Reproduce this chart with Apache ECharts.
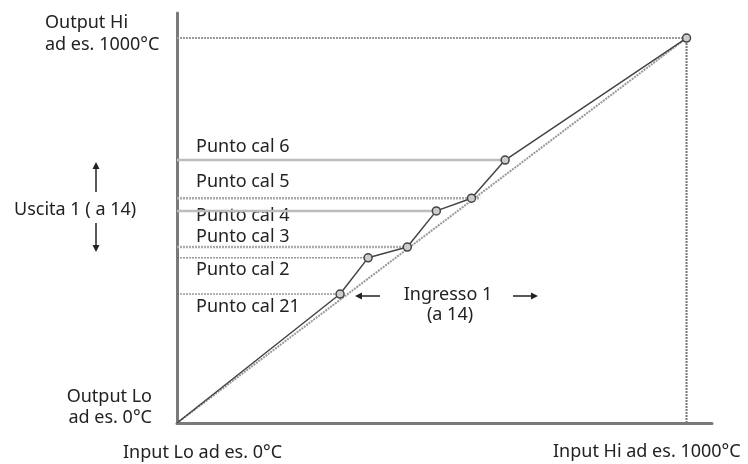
<!DOCTYPE html>
<html>
<head>
<meta charset="utf-8">
<script src="https://cdn.jsdelivr.net/npm/echarts@6/dist/echarts.min.js"></script>
<style>
  html, body { margin: 0; padding: 0; background: #fff; }
  #chart { width: 748px; height: 464px; }
</style>
</head>
<body>
<div id="chart"></div>
<script>
// calibration curve (input -> output), origin + points + hi end
const calX = [0, 320, 375, 452, 509, 578, 644, 1000];
const calY = [0, 335, 429, 457, 551, 584, 683, 1000];
// horizontal guide lines, one per calibration point
const guideNames = ['Punto cal 21', 'Punto cal 2', 'Punto cal 3', 'Punto cal 4', 'Punto cal 5', 'Punto cal 6'];
const guideY = [335, 429, 457, 551, 584, 683];
const guideEndX = [320, 375, 452, 509, 595, 644];
const guideKind = ['thinDot', 'thinDot', 'wideDot', 'solid', 'wideDot', 'solid'];
const inputLo = 0, inputHi = 1000;
const outputLo = 0, outputHi = 1000;

const FONT = '"Noto Sans", sans-serif';
const TXT = '#222';

const guideStyles = {
  thinDot: { color: '#666', width: 1, type: [2, 1] },
  wideDot: { color: '#aaa', width: 2.5, type: [2, 1] },
  solid: { color: '#bdbdbd', width: 2.5, type: 'solid' }
};

const chart = echarts.init(document.getElementById('chart'));

const series = [];
// reference diagonal (dotted)
series.push({
  type: 'line', silent: true, symbol: 'none',
  data: [[inputLo, outputLo], [inputHi, outputHi]],
  lineStyle: { color: '#999', width: 2, type: [2, 1] },
  z: 2
});
// output hi horizontal + input hi vertical
series.push({
  type: 'line', silent: true, symbol: 'none',
  data: [[inputLo, outputHi], [inputHi, outputHi]],
  lineStyle: { color: '#999', width: 2, type: [2, 1] }
});
series.push({
  type: 'line', silent: true, symbol: 'none',
  data: [[inputHi, outputLo], [inputHi, outputHi]],
  lineStyle: { color: '#777', width: 2, type: [2, 1] }
});
guideY.forEach((y, i) => {
  series.push({
    type: 'line', silent: true, symbol: 'none',
    data: [[inputLo, y], [guideEndX[i], y]],
    lineStyle: guideStyles[guideKind[i]],
    z: 1
  });
});
// calibration curve
series.push({
  type: 'line', silent: true,
  data: calX.map((x, i) => i === 0
    ? { value: [x, calY[i]], symbol: 'none' }
    : [x, calY[i]]),
  symbol: 'circle', symbolSize: 8,
  lineStyle: { color: '#444', width: 1.5 },
  itemStyle: { color: '#ccc', borderColor: '#444', borderWidth: 1.5 },
  z: 5
});

const guideLabelY = [307, 270, 237, 216, 182, 147];

function txt(x, y, text, align) {
  return {
    type: 'text', x: x, y: y,
    style: { text: text, fill: TXT, font: '18px ' + FONT, textAlign: align || 'left', textVerticalAlign: 'middle' }
  };
}
function arrow(x1, y1, x2, y2) {
  const dx = x2 - x1, dy = y2 - y1;
  const len = Math.sqrt(dx * dx + dy * dy);
  const ux = dx / len, uy = dy / len;
  const hx = x2 - ux * 7, hy = y2 - uy * 7;
  return [
    { type: 'line', shape: { x1: x1, y1: y1, x2: hx, y2: hy }, style: { stroke: '#222', lineWidth: 1.5 } },
    { type: 'polygon', shape: { points: [[x2, y2], [hx - uy * 3.5, hy + ux * 3.5], [hx + uy * 3.5, hy - ux * 3.5]] }, style: { fill: '#222' } }
  ];
}

const graphic = [];
guideNames.forEach((n, i) => graphic.push(txt(196, guideLabelY[i], n)));
graphic.push(txt(45, 23, 'Output Hi'));
graphic.push(txt(45, 45, 'ad es. 1000°C'));
graphic.push(txt(152, 397, 'Output Lo', 'right'));
graphic.push(txt(152, 418, 'ad es. 0°C', 'right'));
graphic.push(txt(123, 453, 'Input Lo ad es. 0°C'));
graphic.push(txt(553, 452, 'Input Hi ad es. 1000°C'));
graphic.push(txt(14, 210, 'Uscita 1 ( a 14)'));
graphic.push(txt(448, 295, 'Ingresso 1', 'center'));
graphic.push(txt(450, 315, '(a 14)', 'center'));
graphic.push(...arrow(96, 192, 96, 162));
graphic.push(...arrow(96, 223, 96, 252));
graphic.push(...arrow(380, 296, 355, 296));
graphic.push(...arrow(513, 296, 538, 296));

chart.setOption({
  animation: false,
  backgroundColor: '#fff',
  grid: { left: 177, right: 36, top: 13, bottom: 41, containLabel: false },
  xAxis: {
    type: 'value', min: 0, max: 1050,
    axisLine: { show: true, lineStyle: { color: '#7a7a7a', width: 3 } },
    axisTick: { show: false }, axisLabel: { show: false }, splitLine: { show: false }
  },
  yAxis: {
    type: 'value', min: 0, max: 1065,
    axisLine: { show: true, lineStyle: { color: '#7a7a7a', width: 3 } },
    axisTick: { show: false }, axisLabel: { show: false }, splitLine: { show: false }
  },
  series: series,
  graphic: graphic
});
</script>
</body>
</html>
